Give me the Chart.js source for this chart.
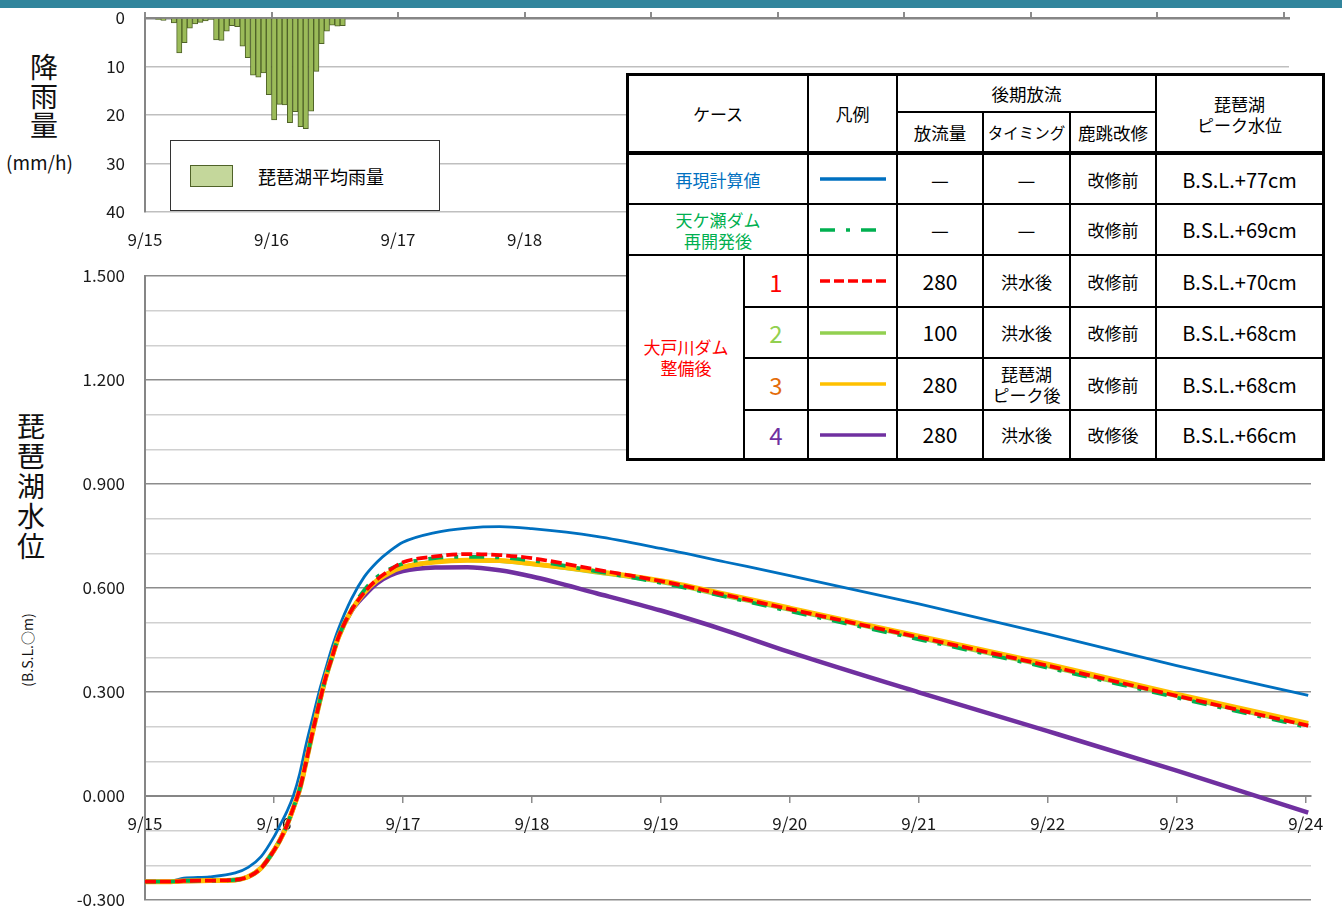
<!DOCTYPE html>
<html><head><meta charset="utf-8">
<script src="https://cdn.jsdelivr.net/npm/chart.js@4.4.0/dist/chart.umd.min.js"></script>
<style>
html,body{margin:0;padding:0;background:#fff;}
body{width:1342px;height:908px;position:relative;overflow:hidden;font-family:"Noto Sans CJK JP","Noto Sans",sans-serif;color:#000;}
.abs{position:absolute;}
#topbar{left:0;top:0;width:1342px;height:8px;background:#31859C;z-index:5;}
#c1{left:0;top:0;z-index:1;}
#c2{left:0;top:260px;z-index:1;}
.vt{text-align:center;font-size:28px;line-height:29px;color:#111;}
#legendBox{left:170px;top:140px;width:270px;height:71px;box-sizing:border-box;border:1.5px solid #333;background:#fff;z-index:3;}
#tbl{left:626px;top:73px;width:699px;height:388px;background:#fff;z-index:3;}
.ln{position:absolute;background:#000;}
.cell{position:absolute;display:flex;align-items:center;justify-content:center;text-align:center;line-height:21px;font-size:17px;}
</style></head><body>
<div id="topbar" class="abs"></div>
<canvas id="c1" class="abs" width="1342" height="260"></canvas>
<canvas id="c2" class="abs" width="1342" height="648"></canvas>

<div class="abs vt" style="left:28px;top:52px;width:32px;">降<br>雨<br>量</div>
<div class="abs" style="left:6px;top:151px;font-size:19px;line-height:22px;color:#111;">(mm/h)</div>
<div class="abs vt" style="left:14px;top:410px;width:34px;line-height:30px;">琵<br>琶<br>湖<br>水<br>位</div>
<div class="abs" style="left:-33px;top:640px;width:120px;height:20px;line-height:20px;text-align:center;font-size:14px;color:#111;transform:rotate(-90deg);">(B.S.L.○m)</div>

<div id="legendBox" class="abs">
  <div class="abs" style="left:19px;top:24px;width:43px;height:22px;box-sizing:border-box;background:#C4D79B;border:1px solid #4F6228;"></div>
  <div class="abs" style="left:87px;top:23px;font-size:18px;line-height:24px;">琵琶湖平均雨量</div>
</div>

<div id="tbl" class="abs"></div>

<script>
// ---- data ----
const dateLabels = ['9/15','9/16','9/17','9/18','9/19','9/20','9/21','9/22','9/23','9/24'];
// hourly rainfall (mm/h) from 9/15 0:00
const rainHourly = [0,0,0.3,0.5,0,1.0,7.2,5.1,2.1,1.2,0.9,0.6,0.3,4.5,4.6,2.7,1.6,1.8,5.8,8.2,11.8,12.2,11.3,15.8,21.0,17.8,17.9,21.6,19.3,22.4,22.8,19.2,11.0,5.3,2.7,1.5,1.7,1.6];
// time in days from 9/15 0:00
const timeDays = [0,0.2,0.3,0.5,0.7,0.8,0.9,1.0,1.05,1.1,1.15,1.2,1.25,1.3,1.35,1.4,1.45,1.5,1.6,1.7,1.8,1.9,2.0,2.25,2.5,2.75,3.0,3.5,4.0,4.5,5,6,7,8,9.02];
const reproLevel = [-0.247,-0.246,-0.237,-0.233,-0.222,-0.206,-0.175,-0.118,-0.082,-0.045,0.000,0.065,0.150,0.225,0.300,0.365,0.428,0.482,0.568,0.632,0.675,0.707,0.732,0.760,0.773,0.777,0.771,0.749,0.714,0.675,0.636,0.554,0.467,0.376,0.290];
const amagaseLevel = [-0.247,-0.247,-0.245,-0.244,-0.242,-0.233,-0.208,-0.157,-0.125,-0.085,-0.035,0.020,0.100,0.185,0.265,0.340,0.400,0.458,0.537,0.594,0.632,0.655,0.670,0.686,0.690,0.688,0.679,0.648,0.615,0.575,0.533,0.452,0.370,0.284,0.198];
const case1Level = [-0.247,-0.247,-0.245,-0.244,-0.242,-0.233,-0.208,-0.157,-0.125,-0.085,-0.035,0.020,0.100,0.185,0.265,0.340,0.400,0.458,0.535,0.587,0.625,0.652,0.674,0.691,0.698,0.695,0.686,0.653,0.620,0.580,0.539,0.458,0.376,0.289,0.203];
const case2Level = [-0.247,-0.247,-0.245,-0.244,-0.242,-0.233,-0.208,-0.157,-0.125,-0.085,-0.035,0.020,0.100,0.185,0.265,0.340,0.400,0.458,0.535,0.587,0.622,0.646,0.661,0.676,0.680,0.678,0.669,0.645,0.617,0.577,0.537,0.456,0.374,0.288,0.203];
const case3Level = [-0.247,-0.247,-0.245,-0.244,-0.242,-0.233,-0.208,-0.157,-0.125,-0.085,-0.035,0.020,0.100,0.185,0.265,0.340,0.400,0.458,0.535,0.587,0.622,0.645,0.660,0.675,0.680,0.679,0.670,0.648,0.621,0.582,0.542,0.461,0.380,0.294,0.209];
const case4Level = [-0.247,-0.247,-0.245,-0.244,-0.242,-0.233,-0.208,-0.157,-0.125,-0.085,-0.035,0.020,0.100,0.185,0.265,0.340,0.400,0.458,0.533,0.578,0.614,0.636,0.649,0.659,0.660,0.651,0.633,0.585,0.535,0.478,0.415,0.299,0.187,0.073,-0.048];

Chart.defaults.font.family = '"Noto Sans CJK JP","Noto Sans",sans-serif';
const X_MAX = 217/24;
const dayTicks = s => { s.ticks = dateLabels.map((_, i) => ({value: i})); };
const fitY = s => { s.width = 145; s.paddingTop = 6; s.paddingBottom = 6; };

// ---- rainfall chart ----
new Chart(document.getElementById('c1'), {
  type: 'bar',
  data: { datasets: [{
    data: rainHourly.map((v, i) => ({x: (i + 0.5) / 24, y: v})),
    backgroundColor: '#9BBB59', borderColor: '#4F6228', borderWidth: 1,
    barPercentage: 1, categoryPercentage: 1
  }]},
  options: {
    responsive: false, animation: false, devicePixelRatio: 1,
    layout: {padding: {top: 12, right: 53, bottom: 0, left: 0}},
    plugins: {legend: {display: false}, tooltip: {enabled: false}},
    scales: {
      x: {type: 'linear', min: 0, max: X_MAX, position: 'bottom', offset: false,
          afterBuildTicks: dayTicks, afterFit: s => { s.height = 48; },
          ticks: {callback: (v, i) => dateLabels[i], maxRotation: 0, autoSkip: false, padding: 17, color: '#1a1a1a', font: {size: 17}},
          grid: {display: false, offset: false, drawTicks: false}, border: {display: false}},
      xTop: {type: 'linear', min: 0, max: X_MAX, position: 'top', offset: false,
          afterBuildTicks: dayTicks, afterFit: s => { s.height = 6; },
          ticks: {display: false},
          grid: {drawOnChartArea: false, offset: false, drawTicks: true, tickLength: 6, color: '#8c8c8c', lineWidth: 2},
          border: {color: '#868686', width: 2.5}},
      y: {reverse: true, min: 0, max: 40, afterFit: fitY,
          ticks: {stepSize: 10, padding: 20, color: '#1a1a1a', font: {size: 17}},
          grid: {drawTicks: false, lineWidth: 1.5, color: c => c.tick.value === 0 ? 'rgba(0,0,0,0)' : '#bfbfbf'},
          border: {color: '#868686', width: 2}}
    }
  }
});

// ---- lake level chart ----
const mk = vals => timeDays.map((t, i) => ({x: t, y: vals[i]}));
new Chart(document.getElementById('c2'), {
  type: 'line',
  data: { datasets: [
    {data: mk(case1Level), borderColor: '#FF0000', borderWidth: 3.75, borderDash: [11, 4]},
    {data: mk(amagaseLevel), borderColor: '#00B050', borderWidth: 3.75, borderDash: [15, 11, 4, 11]},
    {data: mk(case3Level), borderColor: '#FFC000', borderWidth: 5},
    {data: mk(case2Level), borderColor: '#92D050', borderWidth: 4},
    {data: mk(case4Level), borderColor: '#7030A0', borderWidth: 4.5},
    {data: mk(reproLevel), borderColor: '#0070C0', borderWidth: 2.8}
  ]},
  options: {
    responsive: false, animation: false, devicePixelRatio: 1,
    layout: {padding: {top: 16, right: 31, bottom: 8, left: 0}},
    elements: {point: {radius: 0}, line: {cubicInterpolationMode: 'monotone', fill: false, borderCapStyle: 'butt'}},
    plugins: {legend: {display: false}, tooltip: {enabled: false}},
    scales: {
      x: {type: 'linear', min: 0, max: X_MAX, position: {y: 0},
          afterBuildTicks: dayTicks,
          ticks: {callback: (v, i) => dateLabels[i], maxRotation: 0, autoSkip: false, padding: 11, color: '#1a1a1a', font: {size: 17}},
          grid: {drawOnChartArea: false, drawTicks: true, tickLength: 6, color: '#8c8c8c', lineWidth: 1.5},
          border: {color: '#868686', width: 2}},
      y: {min: -0.3, max: 1.5, afterFit: fitY,
          ticks: {stepSize: 0.1, autoSkip: false, padding: 20, color: '#1a1a1a', font: {size: 17},
                  callback: v => (Math.abs(Math.round(v * 10)) % 3 === 0) ? v.toFixed(3) : ''},
          grid: {drawTicks: false, lineWidth: 1.5,
                 color: c => (Math.abs(Math.round(c.tick.value * 10)) % 3 === 0) ? '#8c8c8c' : '#d0d0d0'},
          border: {color: '#868686', width: 2}}
    }
  }
});

// ---- legend table ----
const tbl = document.getElementById('tbl');
function line(x, y, w, h) { const d = document.createElement('div'); d.className = 'ln'; d.style.cssText = `left:${x}px;top:${y}px;width:${w}px;height:${h}px;`; tbl.appendChild(d); }
function cell(x1, y1, x2, y2, html, css) { const d = document.createElement('div'); d.className = 'cell'; d.style.cssText = `left:${x1}px;top:${y1}px;width:${x2-x1}px;height:${y2-y1}px;` + (css || ''); d.innerHTML = html; tbl.appendChild(d); }
function swatch(y, color, width, dash) {
  const ns = 'http://www.w3.org/2000/svg';
  const svg = document.createElementNS(ns, 'svg');
  svg.setAttribute('width', 66); svg.setAttribute('height', 10);
  svg.style.cssText = `position:absolute;left:194px;top:${y - 5}px;`;
  const l = document.createElementNS(ns, 'line');
  l.setAttribute('x1', 0); l.setAttribute('y1', 5); l.setAttribute('x2', 66); l.setAttribute('y2', 5);
  l.setAttribute('stroke', color); l.setAttribute('stroke-width', width);
  if (dash) l.setAttribute('stroke-dasharray', dash);
  svg.appendChild(l); tbl.appendChild(svg);
}
// outer
line(0, 0, 699, 3); line(0, 385, 699, 3); line(0, 0, 3, 388); line(696, 0, 3, 388);
// verticals
line(117, 182, 2, 206); line(181, 0, 2, 388); line(270, 0, 2, 388);
line(356, 39, 2, 349); line(443, 39, 2, 349); line(529, 0, 2, 388);
// horizontals
line(271, 38, 259, 2); line(0, 78, 699, 4); line(0, 130, 699, 2); line(0, 181, 699, 2);
line(118, 233, 581, 2); line(118, 284, 581, 2); line(118, 336, 581, 2);

const dash = '<span style="font-size:20px;">—</span>';
cell(3, 3, 181, 78, 'ケース');
cell(183, 3, 270, 78, '凡例');
cell(272, 3, 529, 38, '後期放流', 'font-size:17.5px;');
cell(272, 40, 356, 78, '放流量', 'font-size:17.5px;');
cell(358, 40, 443, 78, 'タイミング', 'font-size:15.5px;');
cell(445, 40, 529, 78, '鹿跳改修', 'font-size:17.5px;');
cell(531, 3, 696, 78, '琵琶湖<br>ピーク水位', 'line-height:21px;');

const rowsTop = [82, 132, 183, 235, 286, 338];
const rowsBot = [130, 181, 233, 284, 336, 385];
cell(3, 82, 181, 130, '再現計算値', 'color:#0070C0;');
cell(3, 132, 181, 181, '天ケ瀬ダム<br>再開発後', 'color:#00B050;line-height:21px;');
cell(3, 183, 117, 385, '大戸川ダム<br>整備後', 'color:#FF0000;line-height:21px;');
const caseNums = ['1', '2', '3', '4'];
const caseColors = ['#FF0000', '#92D050', '#E46C0A', '#7030A0'];
const flowVals = ['—', '—', '280', '100', '280', '280'];
const timingVals = ['—', '—', '洪水後', '洪水後', '琵琶湖<br>ピーク後', '洪水後'];
const kaishuVals = ['改修前', '改修前', '改修前', '改修前', '改修前', '改修後'];
const peakVals = ['B.S.L.+77cm', 'B.S.L.+69cm', 'B.S.L.+70cm', 'B.S.L.+68cm', 'B.S.L.+68cm', 'B.S.L.+66cm'];
for (let r = 0; r < 6; r++) {
  const t = rowsTop[r], b = rowsBot[r];
  if (r >= 2) cell(119, t, 181, b, caseNums[r - 2], `color:${caseColors[r - 2]};font-size:24px;`);
  const fv = flowVals[r] === '—' ? dash : flowVals[r];
  const tv = timingVals[r] === '—' ? dash : timingVals[r];
  cell(272, t, 356, b, fv, 'font-size:21px;');
  cell(358, t, 443, b, tv, 'font-size:17px;line-height:21px;');
  cell(445, t, 529, b, kaishuVals[r], 'font-size:17px;');
  cell(531, t, 696, b, peakVals[r], 'font-size:20px;');
}
const mid = r => Math.round((rowsTop[r] + rowsBot[r]) / 2);
swatch(mid(0), '#0070C0', 3.5);
swatch(mid(1), '#00B050', 3.5, '15 11 4 11');
swatch(mid(2), '#FF0000', 3.5, '10 4');
swatch(mid(3), '#92D050', 3.5);
swatch(mid(4), '#FFC000', 3.5);
swatch(mid(5), '#7030A0', 3.5);
</script>
</body></html>
